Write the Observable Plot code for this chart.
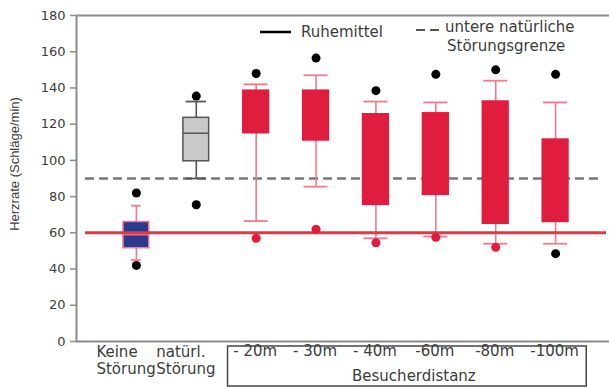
<!DOCTYPE html>
<html><head><meta charset="utf-8">
<script src="https://cdn.jsdelivr.net/npm/d3@7"></script>
<script src="https://cdn.jsdelivr.net/npm/@observablehq/plot@0.6"></script>
<style>body{margin:0;background:#fff} svg{display:block}</style>
</head><body><div id="chart"></div>
<script>
// ---- data ----
const categories = ["Keine\nStörung", "natürl.\nStörung", "- 20m", "- 30m", "- 40m", "-60m", "-80m", "-100m"];
const groups = ["none", "natural", "visitor", "visitor", "visitor", "visitor", "visitor", "visitor"];
const whiskerLow  = [45, 90, 66.5, 85.5, 57, 58, 54, 54];
const q1          = [51.5, 99.5, 115, 111, 75.5, 81, 65, 66];
const median      = [59, 115, null, null, null, null, null, null];
const q3          = [66, 123.5, 138.5, 138.5, 125.5, 126, 132.5, 111.5];
const whiskerHigh = [75, 132.5, 142, 147, 132.5, 132, 144, 132];
const outlierHigh = [82, 135.5, 148, 156.5, 138.5, 147.5, 150, 147.5];
const outlierLow  = [42, 75.5, 57, 62, 54.5, 57.5, 52, 48.5];
const outlierLowKind = ["plain", "plain", "red", "red", "red", "red", "red", "plain"];
const restMean = 60;      // Ruhemittel
const lowerLimit = 90;    // untere natürliche Störungsgrenze
const yTicks = [0, 20, 40, 60, 80, 100, 120, 140, 160, 180];
const axisTitle = "Herzrate (Schläge/min)";
const groupTitle = "Besucherdistanz";
const legendLabels = ["Ruhemittel", "untere natürliche\nStörungsgrenze"];

// ---- styles ----
const RED = "#E11D3F", PINK = "#F27A8C", BLUE = "#2B3A8F", GRAY = "#C9C9C9", AXIS = "#8C8C8C", TXT = "#3C3C3C";
const boxFill = {none: BLUE, natural: GRAY, visitor: RED};
const boxStroke = {none: PINK, natural: "#555", visitor: RED};
const whiskerColor = {none: PINK, natural: "#555", visitor: PINK};
const capHalf = {none: 0.08, natural: 0.17, visitor: 0.2};
const BOX_HALF = 0.215;

const rows = categories.map((c, i) => ({
  c, pos: i + 1, g: groups[i],
  wl: whiskerLow[i], q1: q1[i], med: median[i], q3: q3[i], wh: whiskerHigh[i],
  oh: outlierHigh[i], ol: outlierLow[i], olk: outlierLowKind[i]
}));

const plot = Plot.plot({
  width: 609, height: 387,
  marginLeft: 76, marginRight: 0, marginTop: 15, marginBottom: 46,
  x: {domain: [0, 534 / 60], axis: null},
  y: {domain: [0, 180]},
  style: {fontFamily: "'DejaVu Sans', sans-serif", fontSize: "13px", color: TXT, background: "#fff", overflow: "visible"},
  marks: [
    Plot.axisY({ticks: yTicks, tickSize: 6, tickPadding: 5, stroke: AXIS, strokeWidth: 1.5, fill: TXT, label: null, fontSize: 13}),
    // lower natural disturbance limit
    Plot.ruleY([lowerLimit], {x1: 0.15, x2: 8.78, stroke: "#777", strokeWidth: 2.5, strokeDasharray: "9,5"}),
    // whiskers
    Plot.ruleX(rows, {x: "pos", y1: "wl", y2: "q1", stroke: d => whiskerColor[d.g], strokeWidth: 1.6}),
    Plot.ruleX(rows, {x: "pos", y1: "q3", y2: "wh", stroke: d => whiskerColor[d.g], strokeWidth: 1.6}),
    Plot.ruleY(rows, {y: "wl", x1: d => d.pos - capHalf[d.g], x2: d => d.pos + capHalf[d.g], stroke: d => whiskerColor[d.g], strokeWidth: 1.8}),
    Plot.ruleY(rows, {y: "wh", x1: d => d.pos - capHalf[d.g], x2: d => d.pos + capHalf[d.g], stroke: d => whiskerColor[d.g], strokeWidth: 1.8}),
    // boxes
    Plot.rect(rows, {x1: d => d.pos - BOX_HALF, x2: d => d.pos + BOX_HALF, y1: "q1", y2: "q3",
      fill: d => boxFill[d.g], stroke: d => boxStroke[d.g], strokeWidth: 1.5}),
    Plot.ruleY(rows.filter(d => d.med != null), {y: "med", x1: d => d.pos - BOX_HALF, x2: d => d.pos + BOX_HALF, stroke: d => boxStroke[d.g], strokeWidth: 1.5}),
    // frame
    Plot.ruleY([0, 180], {stroke: AXIS, strokeWidth: 2}),
    Plot.ruleX([0], {y1: 0, y2: 180, stroke: AXIS, strokeWidth: 2}),
    // resting mean
    Plot.ruleY([restMean], {x1: 0.15, x2: 8.85, stroke: "#E8344A", strokeWidth: 3}),
    // outliers
    Plot.dot(rows, {x: "pos", y: "oh", r: 4.5, fill: "#000"}),
    Plot.dot(rows, {x: "pos", y: "ol", r: 4.5, fill: d => d.olk === "red" ? RED : "#000"}),
    // category labels
    Plot.text(rows.filter(d => d.g !== "visitor"), {x: "pos", text: "c", frameAnchor: "bottom", textAnchor: "start", lineAnchor: "top", dx: -40, dy: 4, fontSize: 15, fill: TXT, lineHeight: 1.12}),
    Plot.text(rows.filter(d => d.g === "visitor"), {x: "pos", text: "c", frameAnchor: "bottom", lineAnchor: "top", dy: 4, dx: -1, fontSize: 15, fill: TXT})
  ]
});

document.getElementById("chart").appendChild(plot);

// layout extras (pixel positions derived from the plot scales)
const svg = d3.select(plot);
const sx = plot.scale("x"), sy = plot.scale("y");
const X = v => sx.apply(v), Y = v => sy.apply(v);

// box around the visitor-distance group
const vis = rows.filter(d => d.g === "visitor");
const bx1 = X(vis[0].pos - 0.47), bx2 = X(vis[vis.length - 1].pos + 0.52);
svg.append("rect").attr("x", bx1).attr("y", Y(0) + 5).attr("width", bx2 - bx1).attr("height", 387 - Y(0) - 6)
  .attr("fill", "none").attr("stroke", "#444").attr("stroke-width", 1.5);
svg.append("text").attr("x", (bx1 + bx2) / 2 + 7).attr("y", 381).attr("text-anchor", "middle")
  .attr("font-size", 15).attr("fill", TXT).text(groupTitle);

// y axis title
svg.append("text").attr("transform", `translate(19,${(Y(0) + Y(180)) / 2 - 14}) rotate(-90)`)
  .attr("text-anchor", "middle").attr("font-family", "'Liberation Sans', Arial, sans-serif")
  .attr("font-size", 13).attr("fill", TXT).text(axisTitle);

// legend
const lg = svg.append("g").attr("font-size", 15).attr("fill", TXT).attr("text-anchor", "start");
lg.append("line").attr("x1", 260).attr("x2", 291).attr("y1", 32).attr("y2", 32).attr("stroke", "#000").attr("stroke-width", 2.5);
lg.append("text").attr("x", 301).attr("y", 37).attr("text-anchor", "start").text(legendLabels[0]);
lg.append("line").attr("x1", 416).attr("x2", 439).attr("y1", 30).attr("y2", 30).attr("stroke", "#555").attr("stroke-width", 2).attr("stroke-dasharray", "9,5");
const l2 = legendLabels[1].split("\n");
lg.append("text").attr("x", 445).attr("y", 32).attr("text-anchor", "start").text(l2[0]);
lg.append("text").attr("x", 447).attr("y", 51).attr("text-anchor", "start").text(l2[1]);
</script>
</body></html>
